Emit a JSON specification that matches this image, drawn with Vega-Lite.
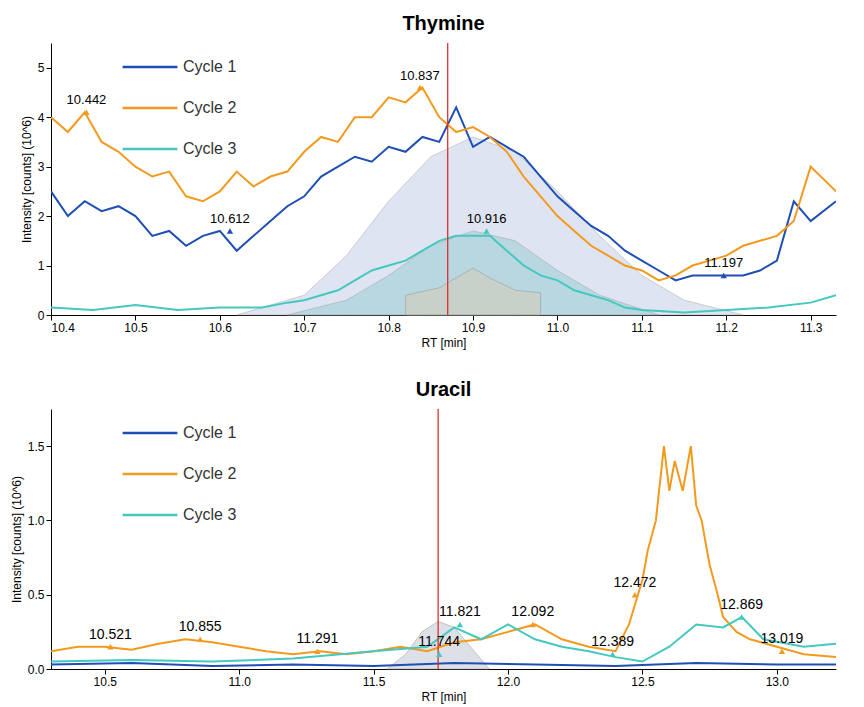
{
  "$schema": "https://vega.github.io/schema/vega-lite/v6.json",
  "padding": {"left": 10, "top": 14, "right": 5, "bottom": 5},
  "spacing": 32,
  "datasets": {
    "thy": [
      {"x":10.40,"y":2.5,"s":"Cycle 1"},{"x":10.42,"y":2.0,"s":"Cycle 1"},{"x":10.44,"y":2.3,"s":"Cycle 1"},{"x":10.46,"y":2.1,"s":"Cycle 1"},{"x":10.48,"y":2.2,"s":"Cycle 1"},{"x":10.50,"y":2.0,"s":"Cycle 1"},{"x":10.52,"y":1.6,"s":"Cycle 1"},{"x":10.54,"y":1.7,"s":"Cycle 1"},{"x":10.56,"y":1.4,"s":"Cycle 1"},{"x":10.58,"y":1.6,"s":"Cycle 1"},{"x":10.60,"y":1.7,"s":"Cycle 1"},{"x":10.62,"y":1.3,"s":"Cycle 1"},{"x":10.64,"y":1.6,"s":"Cycle 1"},{"x":10.66,"y":1.9,"s":"Cycle 1"},{"x":10.68,"y":2.2,"s":"Cycle 1"},{"x":10.70,"y":2.4,"s":"Cycle 1"},{"x":10.72,"y":2.8,"s":"Cycle 1"},{"x":10.74,"y":3.0,"s":"Cycle 1"},{"x":10.76,"y":3.2,"s":"Cycle 1"},{"x":10.78,"y":3.1,"s":"Cycle 1"},{"x":10.80,"y":3.4,"s":"Cycle 1"},{"x":10.82,"y":3.3,"s":"Cycle 1"},{"x":10.84,"y":3.6,"s":"Cycle 1"},{"x":10.86,"y":3.5,"s":"Cycle 1"},{"x":10.88,"y":4.2,"s":"Cycle 1"},{"x":10.90,"y":3.4,"s":"Cycle 1"},{"x":10.92,"y":3.6,"s":"Cycle 1"},{"x":10.94,"y":3.4,"s":"Cycle 1"},{"x":10.96,"y":3.2,"s":"Cycle 1"},{"x":10.98,"y":2.8,"s":"Cycle 1"},{"x":11.00,"y":2.4,"s":"Cycle 1"},{"x":11.02,"y":2.1,"s":"Cycle 1"},{"x":11.04,"y":1.8,"s":"Cycle 1"},{"x":11.06,"y":1.6,"s":"Cycle 1"},{"x":11.08,"y":1.3,"s":"Cycle 1"},{"x":11.10,"y":1.1,"s":"Cycle 1"},{"x":11.12,"y":0.9,"s":"Cycle 1"},{"x":11.14,"y":0.7,"s":"Cycle 1"},{"x":11.16,"y":0.8,"s":"Cycle 1"},{"x":11.18,"y":0.8,"s":"Cycle 1"},{"x":11.20,"y":0.8,"s":"Cycle 1"},{"x":11.22,"y":0.8,"s":"Cycle 1"},{"x":11.24,"y":0.9,"s":"Cycle 1"},{"x":11.26,"y":1.1,"s":"Cycle 1"},{"x":11.28,"y":2.3,"s":"Cycle 1"},{"x":11.30,"y":1.9,"s":"Cycle 1"},{"x":11.33,"y":2.3,"s":"Cycle 1"},
      {"x":10.40,"y":4.0,"s":"Cycle 2"},{"x":10.42,"y":3.7,"s":"Cycle 2"},{"x":10.44,"y":4.1,"s":"Cycle 2"},{"x":10.46,"y":3.5,"s":"Cycle 2"},{"x":10.48,"y":3.3,"s":"Cycle 2"},{"x":10.50,"y":3.0,"s":"Cycle 2"},{"x":10.52,"y":2.8,"s":"Cycle 2"},{"x":10.54,"y":2.9,"s":"Cycle 2"},{"x":10.56,"y":2.4,"s":"Cycle 2"},{"x":10.58,"y":2.3,"s":"Cycle 2"},{"x":10.60,"y":2.5,"s":"Cycle 2"},{"x":10.62,"y":2.9,"s":"Cycle 2"},{"x":10.64,"y":2.6,"s":"Cycle 2"},{"x":10.66,"y":2.8,"s":"Cycle 2"},{"x":10.68,"y":2.9,"s":"Cycle 2"},{"x":10.70,"y":3.3,"s":"Cycle 2"},{"x":10.72,"y":3.6,"s":"Cycle 2"},{"x":10.74,"y":3.5,"s":"Cycle 2"},{"x":10.76,"y":4.0,"s":"Cycle 2"},{"x":10.78,"y":4.0,"s":"Cycle 2"},{"x":10.80,"y":4.4,"s":"Cycle 2"},{"x":10.82,"y":4.3,"s":"Cycle 2"},{"x":10.84,"y":4.6,"s":"Cycle 2"},{"x":10.86,"y":4.0,"s":"Cycle 2"},{"x":10.88,"y":3.7,"s":"Cycle 2"},{"x":10.90,"y":3.8,"s":"Cycle 2"},{"x":10.92,"y":3.6,"s":"Cycle 2"},{"x":10.94,"y":3.3,"s":"Cycle 2"},{"x":10.96,"y":2.8,"s":"Cycle 2"},{"x":10.98,"y":2.4,"s":"Cycle 2"},{"x":11.00,"y":2.0,"s":"Cycle 2"},{"x":11.02,"y":1.7,"s":"Cycle 2"},{"x":11.04,"y":1.4,"s":"Cycle 2"},{"x":11.06,"y":1.2,"s":"Cycle 2"},{"x":11.08,"y":1.0,"s":"Cycle 2"},{"x":11.10,"y":0.9,"s":"Cycle 2"},{"x":11.12,"y":0.7,"s":"Cycle 2"},{"x":11.14,"y":0.8,"s":"Cycle 2"},{"x":11.16,"y":1.0,"s":"Cycle 2"},{"x":11.18,"y":1.1,"s":"Cycle 2"},{"x":11.20,"y":1.2,"s":"Cycle 2"},{"x":11.22,"y":1.4,"s":"Cycle 2"},{"x":11.24,"y":1.5,"s":"Cycle 2"},{"x":11.26,"y":1.6,"s":"Cycle 2"},{"x":11.28,"y":1.9,"s":"Cycle 2"},{"x":11.30,"y":3.0,"s":"Cycle 2"},{"x":11.33,"y":2.5,"s":"Cycle 2"},
      {"x":10.40,"y":0.15,"s":"Cycle 3"},{"x":10.45,"y":0.1,"s":"Cycle 3"},{"x":10.50,"y":0.2,"s":"Cycle 3"},{"x":10.55,"y":0.1,"s":"Cycle 3"},{"x":10.60,"y":0.15,"s":"Cycle 3"},{"x":10.65,"y":0.15,"s":"Cycle 3"},{"x":10.68,"y":0.25,"s":"Cycle 3"},{"x":10.70,"y":0.3,"s":"Cycle 3"},{"x":10.72,"y":0.4,"s":"Cycle 3"},{"x":10.74,"y":0.5,"s":"Cycle 3"},{"x":10.76,"y":0.7,"s":"Cycle 3"},{"x":10.78,"y":0.9,"s":"Cycle 3"},{"x":10.80,"y":1.0,"s":"Cycle 3"},{"x":10.82,"y":1.1,"s":"Cycle 3"},{"x":10.84,"y":1.3,"s":"Cycle 3"},{"x":10.86,"y":1.5,"s":"Cycle 3"},{"x":10.88,"y":1.6,"s":"Cycle 3"},{"x":10.90,"y":1.6,"s":"Cycle 3"},{"x":10.92,"y":1.6,"s":"Cycle 3"},{"x":10.94,"y":1.3,"s":"Cycle 3"},{"x":10.96,"y":1.0,"s":"Cycle 3"},{"x":10.98,"y":0.8,"s":"Cycle 3"},{"x":11.00,"y":0.7,"s":"Cycle 3"},{"x":11.02,"y":0.5,"s":"Cycle 3"},{"x":11.04,"y":0.4,"s":"Cycle 3"},{"x":11.06,"y":0.3,"s":"Cycle 3"},{"x":11.08,"y":0.15,"s":"Cycle 3"},{"x":11.10,"y":0.1,"s":"Cycle 3"},{"x":11.15,"y":0.05,"s":"Cycle 3"},{"x":11.20,"y":0.1,"s":"Cycle 3"},{"x":11.25,"y":0.15,"s":"Cycle 3"},{"x":11.30,"y":0.25,"s":"Cycle 3"},{"x":11.33,"y":0.4,"s":"Cycle 3"}
    ],
    "fitA": [
      {"x":10.62,"y":0},{"x":10.70,"y":0.4},{"x":10.75,"y":1.2},{"x":10.80,"y":2.3},{"x":10.85,"y":3.2},{"x":10.90,"y":3.6},{"x":10.95,"y":3.3},{"x":11.00,"y":2.5},{"x":11.05,"y":1.6},{"x":11.10,"y":0.8},{"x":11.15,"y":0.3},{"x":11.22,"y":0}
    ],
    "fitB": [
      {"x":10.68,"y":0},{"x":10.75,"y":0.3},{"x":10.80,"y":0.8},{"x":10.85,"y":1.4},{"x":10.90,"y":1.7},{"x":10.95,"y":1.5},{"x":11.00,"y":0.9},{"x":11.05,"y":0.4},{"x":11.12,"y":0}
    ],
    "fitC": [
      {"x":10.82,"y":0.4},{"x":10.86,"y":0.55},{"x":10.88,"y":0.75},{"x":10.90,"y":0.95},{"x":10.92,"y":0.75},{"x":10.95,"y":0.5},{"x":10.98,"y":0.45}
    ],
    "thylab": [
      {"x":10.442,"y":4.1,"t":"10.442","s":"Cycle 2"},
      {"x":10.837,"y":4.6,"t":"10.837","s":"Cycle 2"},
      {"x":10.612,"y":1.7,"t":"10.612","s":"Cycle 1"},
      {"x":10.916,"y":1.7,"t":"10.916","s":"Cycle 3"},
      {"x":11.197,"y":0.8,"t":"11.197","s":"Cycle 1"}
    ],
    "ura": [
      {"x":10.3,"y":0.03,"s":"Cycle 1"},{"x":10.6,"y":0.04,"s":"Cycle 1"},{"x":10.9,"y":0.02,"s":"Cycle 1"},{"x":11.2,"y":0.03,"s":"Cycle 1"},{"x":11.5,"y":0.02,"s":"Cycle 1"},{"x":11.8,"y":0.04,"s":"Cycle 1"},{"x":12.1,"y":0.03,"s":"Cycle 1"},{"x":12.4,"y":0.02,"s":"Cycle 1"},{"x":12.7,"y":0.04,"s":"Cycle 1"},{"x":13.0,"y":0.03,"s":"Cycle 1"},{"x":13.22,"y":0.03,"s":"Cycle 1"},
      {"x":10.3,"y":0.12,"s":"Cycle 2"},{"x":10.4,"y":0.15,"s":"Cycle 2"},{"x":10.5,"y":0.15,"s":"Cycle 2"},{"x":10.6,"y":0.13,"s":"Cycle 2"},{"x":10.7,"y":0.17,"s":"Cycle 2"},{"x":10.8,"y":0.2,"s":"Cycle 2"},{"x":10.9,"y":0.18,"s":"Cycle 2"},{"x":11.0,"y":0.15,"s":"Cycle 2"},{"x":11.1,"y":0.12,"s":"Cycle 2"},{"x":11.2,"y":0.1,"s":"Cycle 2"},{"x":11.3,"y":0.12,"s":"Cycle 2"},{"x":11.4,"y":0.1,"s":"Cycle 2"},{"x":11.5,"y":0.12,"s":"Cycle 2"},{"x":11.6,"y":0.15,"s":"Cycle 2"},{"x":11.7,"y":0.12,"s":"Cycle 2"},{"x":11.8,"y":0.18,"s":"Cycle 2"},{"x":11.9,"y":0.2,"s":"Cycle 2"},{"x":12.0,"y":0.25,"s":"Cycle 2"},{"x":12.1,"y":0.3,"s":"Cycle 2"},{"x":12.2,"y":0.2,"s":"Cycle 2"},{"x":12.3,"y":0.15,"s":"Cycle 2"},{"x":12.4,"y":0.12,"s":"Cycle 2"},{"x":12.45,"y":0.3,"s":"Cycle 2"},{"x":12.5,"y":0.6,"s":"Cycle 2"},{"x":12.52,"y":0.8,"s":"Cycle 2"},{"x":12.55,"y":1.0,"s":"Cycle 2"},{"x":12.58,"y":1.5,"s":"Cycle 2"},{"x":12.6,"y":1.2,"s":"Cycle 2"},{"x":12.62,"y":1.4,"s":"Cycle 2"},{"x":12.65,"y":1.2,"s":"Cycle 2"},{"x":12.68,"y":1.5,"s":"Cycle 2"},{"x":12.7,"y":1.1,"s":"Cycle 2"},{"x":12.72,"y":1.0,"s":"Cycle 2"},{"x":12.75,"y":0.7,"s":"Cycle 2"},{"x":12.78,"y":0.5,"s":"Cycle 2"},{"x":12.8,"y":0.35,"s":"Cycle 2"},{"x":12.85,"y":0.25,"s":"Cycle 2"},{"x":12.9,"y":0.2,"s":"Cycle 2"},{"x":13.0,"y":0.15,"s":"Cycle 2"},{"x":13.1,"y":0.1,"s":"Cycle 2"},{"x":13.22,"y":0.08,"s":"Cycle 2"},
      {"x":10.3,"y":0.05,"s":"Cycle 3"},{"x":10.6,"y":0.06,"s":"Cycle 3"},{"x":10.9,"y":0.05,"s":"Cycle 3"},{"x":11.2,"y":0.07,"s":"Cycle 3"},{"x":11.5,"y":0.12,"s":"Cycle 3"},{"x":11.7,"y":0.15,"s":"Cycle 3"},{"x":11.8,"y":0.28,"s":"Cycle 3"},{"x":11.9,"y":0.2,"s":"Cycle 3"},{"x":12.0,"y":0.3,"s":"Cycle 3"},{"x":12.1,"y":0.2,"s":"Cycle 3"},{"x":12.2,"y":0.15,"s":"Cycle 3"},{"x":12.3,"y":0.12,"s":"Cycle 3"},{"x":12.4,"y":0.08,"s":"Cycle 3"},{"x":12.5,"y":0.05,"s":"Cycle 3"},{"x":12.6,"y":0.15,"s":"Cycle 3"},{"x":12.7,"y":0.3,"s":"Cycle 3"},{"x":12.8,"y":0.28,"s":"Cycle 3"},{"x":12.87,"y":0.35,"s":"Cycle 3"},{"x":12.95,"y":0.2,"s":"Cycle 3"},{"x":13.1,"y":0.15,"s":"Cycle 3"},{"x":13.22,"y":0.17,"s":"Cycle 3"}
    ],
    "urafit": [
      {"x":11.55,"y":0},{"x":11.62,"y":0.1},{"x":11.68,"y":0.25},{"x":11.74,"y":0.32},{"x":11.8,"y":0.28},{"x":11.86,"y":0.15},{"x":11.93,"y":0}
    ],
    "uralab": [
      {"x":10.521,"y":0.15,"t":"10.521","s":"Cycle 2"},
      {"x":10.855,"y":0.2,"t":"10.855","s":"Cycle 2"},
      {"x":11.291,"y":0.12,"t":"11.291","s":"Cycle 2"},
      {"x":11.744,"y":0.1,"t":"11.744","s":"Cycle 3"},
      {"x":11.821,"y":0.3,"t":"11.821","s":"Cycle 3"},
      {"x":12.092,"y":0.3,"t":"12.092","s":"Cycle 2"},
      {"x":12.389,"y":0.1,"t":"12.389","s":"Cycle 3"},
      {"x":12.472,"y":0.5,"t":"12.472","s":"Cycle 2"},
      {"x":12.869,"y":0.35,"t":"12.869","s":"Cycle 3"},
      {"x":13.019,"y":0.12,"t":"13.019","s":"Cycle 2"}
    ]
  },
  "vconcat": [
    {
      "title": {"text": "Thymine", "fontSize": 20, "fontWeight": "bold", "offset": 4},
      "width": 785,
      "height": 272,
      "layer": [
        {
          "data": {"name": "fitA"},
          "mark": {"type": "area", "color": "#c9d3ea", "opacity": 0.6, "stroke": "#999", "strokeWidth": 0.8},
          "encoding": {
            "x": {"field": "x", "type": "quantitative", "scale": {"domain": [10.4, 11.33], "nice": false}, "title": "RT [min]", "axis": {"values": [10.4,10.5,10.6,10.7,10.8,10.9,11.0,11.1,11.2,11.3], "format": ".1f", "grid": false}},
            "y": {"field": "y", "type": "quantitative", "scale": {"domain": [0, 5.5], "nice": false}, "title": "Intensity [counts] (10^6)", "axis": {"values": [0,1,2,3,4,5], "grid": false}}
          }
        },
        {
          "data": {"name": "fitB"},
          "mark": {"type": "area", "color": "#9fcfd6", "opacity": 0.6, "stroke": "#999", "strokeWidth": 0.8},
          "encoding": {"x": {"field": "x", "type": "quantitative"}, "y": {"field": "y", "type": "quantitative"}}
        },
        {
          "data": {"name": "fitC"},
          "mark": {"type": "area", "color": "#cfcfbf", "opacity": 0.7, "stroke": "#999", "strokeWidth": 0.8},
          "encoding": {"x": {"field": "x", "type": "quantitative"}, "y": {"field": "y", "type": "quantitative"}}
        },
        {
          "data": {"name": "thy"},
          "mark": {"type": "line", "strokeWidth": 2, "clip": true},
          "encoding": {
            "x": {"field": "x", "type": "quantitative"},
            "y": {"field": "y", "type": "quantitative"},
            "color": {"field": "s", "type": "nominal", "scale": {"domain": ["Cycle 1","Cycle 2","Cycle 3"], "range": ["#1f4fb5", "#f39a1e", "#45c8bf"]},
              "legend": {"title": null, "orient": "none", "legendX": 70, "legendY": -5, "symbolType": "stroke", "symbolSize": 3000, "symbolStrokeWidth": 2.5, "labelFontSize": 16, "rowPadding": 4}}
          }
        },
        {
          "data": {"values": [{"x": 10.87}]},
          "mark": {"type": "rule", "color": "#e02020", "strokeWidth": 1.2},
          "encoding": {"x": {"field": "x", "type": "quantitative"}}
        },
        {
          "data": {"name": "thylab"},
          "mark": {"type": "point", "shape": "triangle-up", "filled": true, "size": 40, "opacity": 1},
          "encoding": {
            "x": {"field": "x", "type": "quantitative"},
            "y": {"field": "y", "type": "quantitative"},
            "color": {"field": "s", "type": "nominal", "legend": null}
          }
        },
        {
          "data": {"name": "thylab"},
          "mark": {"type": "text", "dy": -12, "fontSize": 13, "color": "black"},
          "encoding": {
            "x": {"field": "x", "type": "quantitative"},
            "y": {"field": "y", "type": "quantitative"},
            "text": {"field": "t"}
          }
        }
      ]
    },
    {
      "title": {"text": "Uracil", "fontSize": 20, "fontWeight": "bold", "offset": 4},
      "width": 785,
      "height": 260,
      "layer": [
        {
          "data": {"name": "urafit"},
          "mark": {"type": "area", "color": "#d0d4dc", "opacity": 0.7, "stroke": "#999", "strokeWidth": 0.8},
          "encoding": {
            "x": {"field": "x", "type": "quantitative", "scale": {"domain": [10.3, 13.22], "nice": false}, "title": "RT [min]", "axis": {"values": [10.5,11.0,11.5,12.0,12.5,13.0], "format": ".1f", "grid": false}},
            "y": {"field": "y", "type": "quantitative", "scale": {"domain": [0, 1.75], "nice": false}, "title": "Intensity [counts] (10^6)", "axis": {"values": [0,0.5,1.0,1.5], "format": ".1f", "grid": false}}
          }
        },
        {
          "data": {"name": "ura"},
          "mark": {"type": "line", "strokeWidth": 2, "clip": true},
          "encoding": {
            "x": {"field": "x", "type": "quantitative"},
            "y": {"field": "y", "type": "quantitative"},
            "color": {"field": "s", "type": "nominal", "scale": {"domain": ["Cycle 1","Cycle 2","Cycle 3"], "range": ["#1f4fb5", "#f39a1e", "#45c8bf"]},
              "legend": {"title": null, "orient": "none", "legendX": 70, "legendY": -5, "symbolType": "stroke", "symbolSize": 3000, "symbolStrokeWidth": 2.5, "labelFontSize": 16, "rowPadding": 4}}
          }
        },
        {
          "data": {"values": [{"x": 11.74}]},
          "mark": {"type": "rule", "color": "#e02020", "strokeWidth": 1.2},
          "encoding": {"x": {"field": "x", "type": "quantitative"}}
        },
        {
          "data": {"name": "uralab"},
          "mark": {"type": "point", "shape": "triangle-up", "filled": true, "size": 40, "opacity": 1},
          "encoding": {
            "x": {"field": "x", "type": "quantitative"},
            "y": {"field": "y", "type": "quantitative"},
            "color": {"field": "s", "type": "nominal", "legend": null}
          }
        },
        {
          "data": {"name": "uralab"},
          "mark": {"type": "text", "dy": -12, "fontSize": 14, "color": "black"},
          "encoding": {
            "x": {"field": "x", "type": "quantitative"},
            "y": {"field": "y", "type": "quantitative"},
            "text": {"field": "t"}
          }
        }
      ]
    }
  ],
  "resolve": {"scale": {"color": "independent"}},
  "config": {
    "font": "Liberation Sans",
    "view": {"stroke": null},
    "axis": {"labelFontSize": 12, "titleFontSize": 12, "titleFontWeight": "normal", "domainColor": "#000", "tickColor": "#000", "labelColor": "#000", "titleColor": "#000"},
    "legend": {"labelColor": "#333"}
  }
}
